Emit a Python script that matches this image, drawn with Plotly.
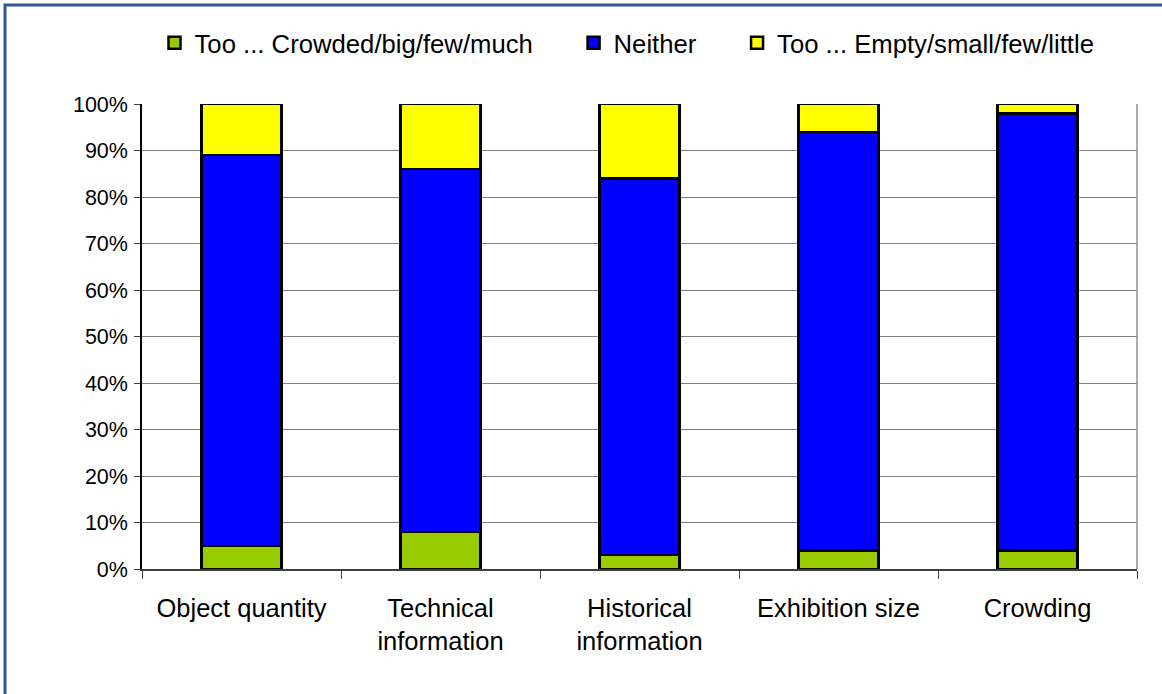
import plotly.graph_objects as go

categories = ["Object quantity", "Technical<br>information", "Historical<br>information",
              "Exhibition size", "Crowding"]
too_crowded = [5, 8, 3, 4, 4]
neither = [84, 78, 81, 90, 94]
too_empty = [11, 14, 16, 6, 2]

series_names = ["Too ... Crowded/big/few/much", "Neither", "Too ... Empty/small/few/little"]
series_colors = ["#99CC00", "#0000FF", "#FFFF00"]

PAD = "\u00a0" * 5

fig = go.Figure()
for i, (name, vals, col) in enumerate(zip(series_names, [too_crowded, neither, too_empty], series_colors)):
    fig.add_trace(go.Bar(
        x=categories, y=[v / 100 for v in vals],
        name=name + (PAD if i < 2 else ""),
        marker=dict(color=col, line=dict(color="black", width=2.5)),
    ))

L, R, T, B = 142, 25, 104, 125
W, H = 1162, 694
pw, ph = W - L - R, H - T - B

def px2x(px):
    return (px - L) / pw

def py2y(py):
    return (H - B - py) / ph

fig.update_layout(
    width=W, height=H,
    margin=dict(l=L, r=R, t=T, b=B),
    barmode="stack", bargap=0.6,
    plot_bgcolor="white", paper_bgcolor="white",
    font=dict(family="Liberation Sans, Arial, sans-serif", size=22, color="black"),
    legend=dict(orientation="h", x=px2x(627), xanchor="center", y=py2y(43), yanchor="middle",
                traceorder="normal", font=dict(size=25.7), itemwidth=30,
                bgcolor="rgba(0,0,0,0)"),
    xaxis=dict(showgrid=False, showline=True, linecolor="#404040", linewidth=2,
               ticks="outside", tickson="boundaries", ticklen=8, tickcolor="#404040",
               tickfont=dict(size=25.5), ticklabelstandoff=15),
    yaxis=dict(range=[0, 1], dtick=0.1, tickformat=".0%", showgrid=True,
               gridcolor="#808080", gridwidth=1, showline=True, linecolor="black",
               linewidth=1.5, ticks="outside", ticklen=6, tickcolor="#404040",
               tickfont=dict(size=21.5), zeroline=False, ticklabelstandoff=2),
    shapes=[
        dict(type="line", xref="paper", yref="paper", x0=1, x1=1, y0=0, y1=1,
             line=dict(color="#909090", width=1.5)),
        dict(type="rect", xref="paper", yref="paper",
             x0=px2x(5), x1=px2x(1300), y0=py2y(5), y1=py2y(900),
             line=dict(color="#3355A0", width=3), fillcolor="rgba(0,0,0,0)", layer="above"),
    ],
)

fig.write_html("out.html")
